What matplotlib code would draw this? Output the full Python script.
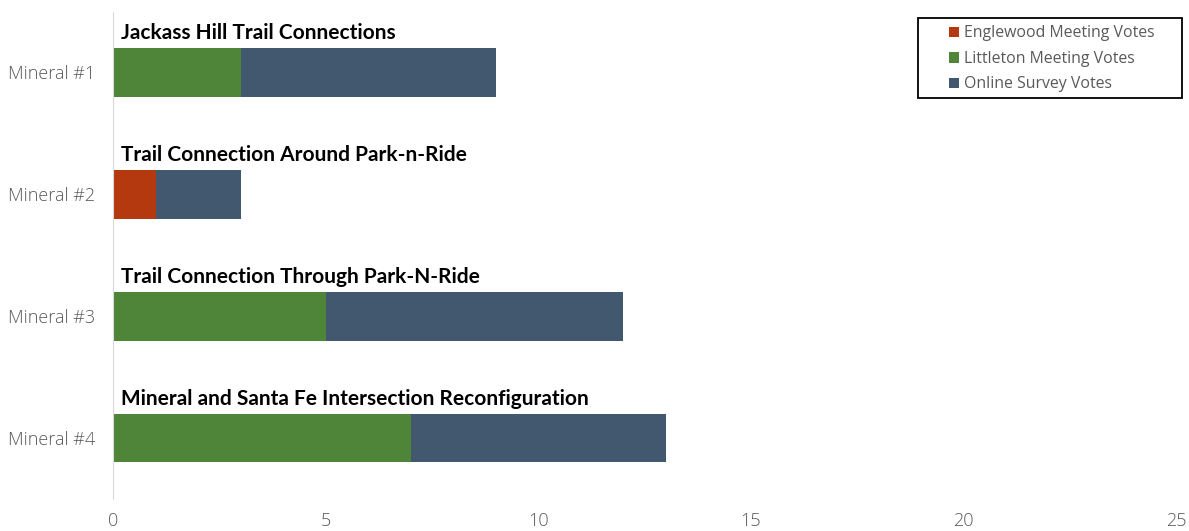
import matplotlib.pyplot as plt
from matplotlib.patches import Patch, Rectangle
import numpy as np

categories = ['Mineral #1', 'Mineral #2', 'Mineral #3', 'Mineral #4']
projects = ['Jackass Hill Trail Connections',
            'Trail Connection Around Park-n-Ride',
            'Trail Connection Through Park-N-Ride',
            'Mineral and Santa Fe Intersection Reconfiguration']
englewood = [0, 1, 0, 0]
littleton = [3, 0, 5, 7]
online = [6, 2, 7, 6]

series = ['Englewood Meeting Votes', 'Littleton Meeting Votes', 'Online Survey Votes']
colors = ['#B5390E', '#4E8539', '#42586E']

W, H = 1189, 531
fig = plt.figure(figsize=(W / 100, H / 100), dpi=100)
ax = fig.add_axes([113 / W, 1 - 499 / H, (1176 - 113) / W, (499 - 11.5) / H])

y = np.arange(len(categories))
left = np.zeros(len(categories))
for vals, c in zip([englewood, littleton, online], colors):
    ax.barh(y, vals, left=left, height=0.4, color=c)
    left += np.array(vals)

# project name above each bar
for i, name in enumerate(projects):
    ax.annotate(name, xy=(0, i - 0.2), xytext=(6, 3.5), textcoords='offset points',
                ha='left', va='bottom', fontsize=15, fontweight='bold',
                family='Lato', color='black')

ax.set_xlim(0, 25)
ax.set_ylim(3.5, -0.5)
ax.set_xticks([0, 5, 10, 15, 20, 25])
ax.set_yticks(y)
ax.set_yticklabels(categories)
for lbl in ax.get_xticklabels() + ax.get_yticklabels():
    lbl.set_family('Open Sans')
    lbl.set_fontweight('light')
    lbl.set_color('#595959')
    lbl.set_fontsize(13)
ax.tick_params(length=0)
ax.tick_params(axis='y', pad=13)
ax.tick_params(axis='x', pad=9)

for s in ['top', 'right', 'bottom']:
    ax.spines[s].set_visible(False)
ax.spines['left'].set_color('#D9D9D9')

# legend box drawn separately so the padding can be wider than tall
fig.add_artist(Rectangle((918 / W, 1 - 98 / H), 264 / W, 80 / H,
                         transform=fig.transFigure, fill=False,
                         edgecolor='black', lw=1.3))
handles = [Patch(facecolor=c, label=s) for s, c in zip(series, colors)]
leg = fig.legend(handles=handles, loc='upper left',
                 bbox_to_anchor=(949 / W, 1 - 25.5 / H),
                 frameon=False, handlelength=0.65, handleheight=0.65,
                 handletextpad=0.3, borderpad=0, labelspacing=0.6,
                 borderaxespad=0, prop={'family': 'Open Sans', 'size': 11.4})
for t in leg.get_texts():
    t.set_color('#595959')

fig.savefig('out.png', dpi=100)
